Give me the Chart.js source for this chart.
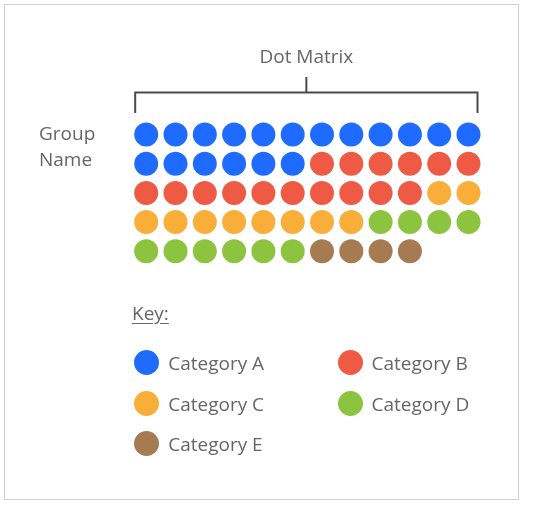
<!DOCTYPE html>
<html>
<head>
<meta charset="utf-8">
<script src="https://cdn.jsdelivr.net/npm/chart.js@4"></script>
<style>
  html, body { margin:0; padding:0; background:#fff; overflow:hidden; }
  #wrap { position:relative; width:536px; height:505px; }
  #frame { position:absolute; left:4px; top:4px; width:513px; height:494px; border:1px solid #cfcfcf; }
  canvas { position:absolute; left:0; top:0; }
  .t { position:absolute; font-family:"Open Sans", sans-serif; font-size:19px; line-height:19px; color:#666; white-space:nowrap; }
  .dot { position:absolute; width:25px; height:25px; border-radius:50%; }
</style>
</head>
<body>
<div id="wrap">
  <div id="frame"></div>
  <canvas id="c" width="536" height="505"></canvas>
  <div id="labels"></div>
</div>
<script>
// ---- data ----
const chartTitle = 'Dot Matrix';
const groupName = ['Group', 'Name'];
const keyLabel = 'Key:';
const categories = ['Category A', 'Category B', 'Category C', 'Category D', 'Category E'];
const counts = [18, 16, 10, 10, 4];
const colors = ['#1f6bff', '#ef5a44', '#f9ae3a', '#8cc43f', '#a67b52'];
const columnsPerRow = 12;

// ---- build datasets (fill the grid row by row) ----
let idx = 0;
const datasets = categories.map((name, k) => {
  const pts = [];
  for (let n = 0; n < counts[k]; n++, idx++) {
    pts.push({ x: idx % columnsPerRow, y: Math.floor(idx / columnsPerRow) });
  }
  return {
    label: name, data: pts,
    backgroundColor: colors[k], borderWidth: 0,
    pointRadius: 12, pointHoverRadius: 12, pointStyle: 'circle'
  };
});
const rows = Math.ceil(idx / columnsPerRow);

const bracket = {
  id: 'bracket',
  afterDraw(chart) {
    const ctx = chart.ctx, xs = chart.scales.x;
    const l = xs.getPixelForValue(0) - 11, r = xs.getPixelForValue(columnsPerRow - 1) + 9;
    const m = (l + r) / 2, y = 92.5;
    ctx.save();
    ctx.strokeStyle = '#4a4a4a'; ctx.lineWidth = 2;
    ctx.beginPath();
    ctx.moveTo(l, 113); ctx.lineTo(l, y); ctx.lineTo(r, y); ctx.lineTo(r, 113);
    ctx.moveTo(m, y); ctx.lineTo(m, 77);
    ctx.stroke();
    ctx.restore();
  }
};

const chart = new Chart(document.getElementById('c'), {
  type: 'scatter',
  data: { datasets },
  options: {
    responsive: false, animation: false, devicePixelRatio: 1,
    layout: { padding: { left: 131.55, right: 52.85, top: 119.9, bottom: 239.1 } },
    scales: {
      x: { type: 'linear', min: -0.5, max: columnsPerRow - 0.5, display: false },
      y: { type: 'linear', min: -0.5, max: rows - 0.5, reverse: true, display: false }
    },
    plugins: { legend: { display: false }, tooltip: { enabled: false } },
    events: []
  },
  plugins: [bracket]
});

// ---- text & key ----
const FS = 19;
const L = document.getElementById('labels');
function text(str, x, baseline, center, extra) {
  const d = document.createElement('div');
  d.className = 't'; d.textContent = str;
  d.style.top = (baseline - 0.888 * FS) + 'px';
  d.style.left = x + 'px';
  if (center) d.style.transform = 'translateX(-50%)';
  if (extra) Object.assign(d.style, extra);
  L.appendChild(d);
}
const xs = chart.scales.x;
text(chartTitle, (xs.getPixelForValue(0) - 11 + xs.getPixelForValue(columnsPerRow - 1) + 9) / 2, 63.5, true);
text(groupName[0], 39, 141);
text(groupName[1], 39, 166.5);
text(keyLabel, 132, 320.5, false, { textDecoration: 'underline', textUnderlineOffset: '3px' });

const colX = [146.7, 350];
const rowY = [362, 403, 443];
categories.forEach((name, k) => {
  const cx = colX[k % 2], cy = rowY[Math.floor(k / 2)];
  const d = document.createElement('div');
  d.className = 'dot';
  d.style.left = (cx - 12.5) + 'px'; d.style.top = (cy - 12.5) + 'px';
  d.style.background = colors[k];
  L.appendChild(d);
  text(name, cx + 21.5, cy + 8.5);
});
</script>
</body>
</html>
